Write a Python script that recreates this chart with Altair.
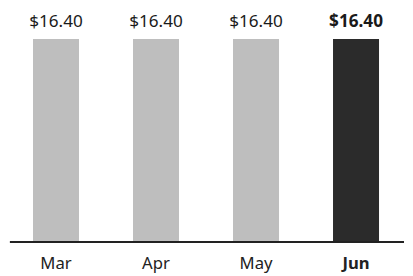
import altair as alt
import pandas as pd

months = ["Mar", "Apr", "May", "Jun"]
values = [16.40, 16.40, 16.40, 16.40]
labels = ["$16.40", "$16.40", "$16.40", "$16.40"]
highlight = "Jun"

df = pd.DataFrame({"month": months, "value": values, "label": labels})

FONT = "Noto Sans"
W, H = 404, 236

x = alt.X(
    "month:N",
    sort=months,
    scale=alt.Scale(paddingInner=0.54, paddingOuter=0.25),
    axis=alt.Axis(
        title=None,
        domain=False,
        ticks=False,
        labelAngle=0,
        labelFont=FONT,
        labelFontSize=17,
        labelColor="#222222",
        labelPadding=14,
        labelFontWeight=alt.condition(
            f"datum.value == '{highlight}'", alt.value("bold"), alt.value("normal")
        ),
    ),
)
y = alt.Y("value:Q", scale=alt.Scale(domain=[0, 18.7]), axis=None)

base = alt.Chart(df)

bars = base.mark_bar().encode(
    x=x,
    y=y,
    color=alt.condition(
        f"datum.month == '{highlight}'", alt.value("#2b2b2b"), alt.value("#bebebe")
    ),
)

text = base.mark_text(
    baseline="bottom",
    dy=-8,
    font=FONT,
    fontSize=17.5,
    color="#1a1a1a",
    fontWeight=alt.expr(f"datum.month == '{highlight}' ? 'bold' : 'normal'"),
).encode(
    x=alt.X("month:N", sort=months),
    y=y,
    text="label:N",
)

rule = base.mark_rule(color="#222222", strokeWidth=1.5).encode(
    x=alt.value(2), x2=alt.value(W), y=alt.value(H)
)

chart = (
    alt.layer(bars, text, rule)
    .properties(width=W, height=H)
    .configure(padding=0)
    .configure_view(stroke=None)
)

chart.save("out.html", embed_options={"renderer": "svg", "actions": False})
